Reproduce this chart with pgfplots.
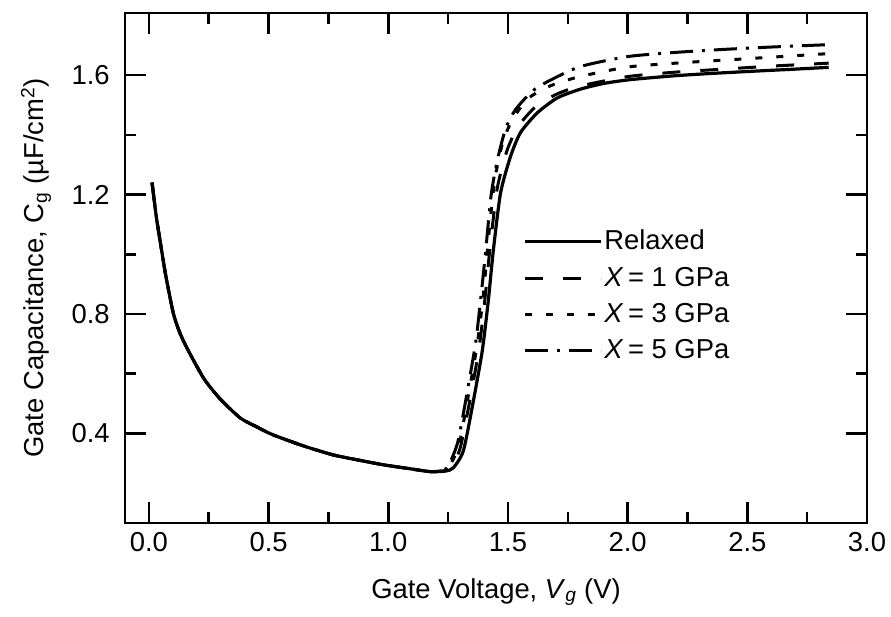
\documentclass[border=0pt]{standalone}
\usepackage{fontspec}
\setmainfont{Liberation Sans}
\usepackage{pgfplots}
\usepackage{pgfplotstable}
\pgfplotsset{compat=1.18}

\pgfplotstableread{
x y
0.013 1.240
0.030 1.130
0.046 1.048
0.070 0.930
0.102 0.802
0.130 0.735
0.164 0.678
0.230 0.583
0.297 0.516
0.381 0.452
0.450 0.422
0.519 0.395
0.650 0.357
0.770 0.328
0.880 0.310
0.979 0.295
1.080 0.283
1.176 0.272
1.240 0.274
1.272 0.285
1.314 0.343
1.356 0.511
1.393 0.679
1.418 0.846
1.439 1.014
1.469 1.205
1.510 1.326
1.552 1.407
1.623 1.474
1.707 1.524
1.803 1.553
1.900 1.572
2.013 1.585
2.200 1.598
2.360 1.606
2.550 1.614
2.700 1.620
2.840 1.626
}\relaxed

\pgfplotstableread{
x y
0.013 1.240
0.030 1.130
0.046 1.048
0.070 0.930
0.102 0.802
0.130 0.735
0.164 0.678
0.230 0.583
0.297 0.516
0.381 0.452
0.450 0.422
0.519 0.395
0.650 0.357
0.770 0.328
0.880 0.310
0.979 0.295
1.080 0.283
1.176 0.272
1.235 0.275
1.260 0.285
1.300 0.350
1.343 0.520
1.380 0.690
1.405 0.860
1.426 1.030
1.455 1.220
1.495 1.345
1.540 1.425
1.610 1.490
1.700 1.535
1.800 1.563
2.000 1.595
2.200 1.610
2.400 1.620
2.600 1.630
2.840 1.640
}\gpaone

\pgfplotstableread{
x y
0.013 1.240
0.030 1.130
0.046 1.048
0.070 0.930
0.102 0.802
0.130 0.735
0.164 0.678
0.230 0.583
0.297 0.516
0.381 0.452
0.450 0.422
0.519 0.395
0.650 0.357
0.770 0.328
0.880 0.310
0.979 0.295
1.080 0.283
1.176 0.272
1.230 0.276
1.255 0.290
1.295 0.360
1.335 0.530
1.372 0.700
1.398 0.870
1.418 1.050
1.445 1.250
1.480 1.380
1.525 1.460
1.590 1.525
1.680 1.565
1.800 1.595
2.000 1.627
2.200 1.640
2.500 1.655
2.840 1.672
}\gpathree

\pgfplotstableread{
x y
0.013 1.240
0.030 1.130
0.046 1.048
0.070 0.930
0.102 0.802
0.130 0.735
0.164 0.678
0.230 0.583
0.297 0.516
0.381 0.452
0.450 0.422
0.519 0.395
0.650 0.357
0.770 0.328
0.880 0.310
0.979 0.295
1.080 0.283
1.176 0.272
1.225 0.277
1.250 0.290
1.290 0.370
1.330 0.540
1.366 0.710
1.390 0.880
1.406 1.004
1.430 1.200
1.456 1.316
1.490 1.420
1.531 1.484
1.600 1.545
1.665 1.578
1.800 1.628
2.000 1.662
2.200 1.676
2.400 1.686
2.600 1.694
2.840 1.702
}\gpafive

\begin{document}
\fontsize{27.5}{33}\selectfont
\begin{tikzpicture}
\begin{axis}[
  scale only axis, width=742bp, height=510bp,
  xmin=-0.1, xmax=3.0, ymin=0.1, ymax=1.808,
  xtick={0,0.5,1.0,1.5,2.0,2.5,3.0},
  ytick={0.4,0.8,1.2,1.6},
  minor x tick num=1, minor y tick num=1,
  tick align=inside,
  xtick pos=both, ytick pos=both,
  major tick length=21bp, minor tick length=11bp,
  tick style={line width=2.6bp, black},
  axis line style={line width=2.6bp},
  tick label style={font=\fontsize{27.5}{33}\selectfont},
  xticklabel={\pgfmathprintnumber[fixed,fixed zerofill,precision=1,assume math mode=true]{\tick}},
  yticklabel={\pgfmathprintnumber[fixed,fixed zerofill,precision=1,assume math mode=true]{\tick}},
  xticklabel pos=bottom, yticklabel pos=left,
  yticklabel style={xshift=-6bp},
  label style={font=\fontsize{27.5}{33}\selectfont},
  xlabel={Gate Voltage, \textit{V}\textsubscript{\textit{g}} (V)},
  ylabel={Gate Capacitance, C\textsubscript{g} (µF/cm\textsuperscript{2})},
  xlabel style={yshift=-8bp},
  ylabel style={yshift=2bp},
  legend style={at={(0.537,0.578)}, anchor=north west, draw=none, fill=none,
    font=\fontsize{27.5}{33}\selectfont, row sep=10bp, inner sep=0pt,
    nodes={inner sep=1.5bp}},
  legend cell align=left,
  legend image code/.code={\draw[#1] (0bp,0bp) -- (76bp,0bp);},
]
\addplot[black, line width=3.2bp, solid, smooth, tension=0.4] table[x=x,y=y] {\relaxed};
\addlegendentry{Relaxed}
\addplot[black, line width=3bp, dash pattern=on 18bp off 20bp, smooth, tension=0.4] table[x=x,y=y] {\gpaone};
\addlegendentry{\textit{X}\,= 1 GPa}
\addplot[black, line width=3bp, dash pattern=on 7bp off 14bp, smooth, tension=0.4] table[x=x,y=y] {\gpathree};
\addlegendentry{\textit{X}\,= 3 GPa}
\addplot[black, line width=3bp, dash pattern=on 23bp off 9bp on 3bp off 9bp, smooth, tension=0.4] table[x=x,y=y] {\gpafive};
\addlegendentry{\textit{X}\,= 5 GPa}
\coordinate (sw) at (rel axis cs:0,0);
\coordinate (ne) at (rel axis cs:1,1);
\end{axis}
\pgfresetboundingbox
\path ([shift={(-125bp,-94bp)}]sw) rectangle ([shift={(24bp,13bp)}]ne);
\end{tikzpicture}
\end{document}
